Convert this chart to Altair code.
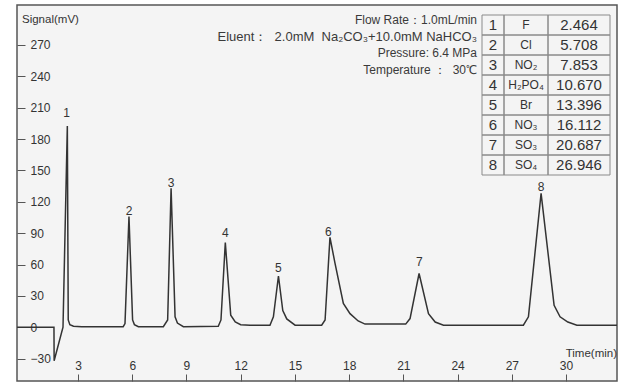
import altair as alt
import pandas as pd

# ---------------- data ----------------
time_min = [-0.37, 1.67, 1.68, 2.17, 2.41, 2.46, 2.55, 2.75, 3.20,
            5.50, 5.60, 5.82, 6.02, 6.12, 6.34,
            7.72, 7.96, 8.15, 8.37, 8.50, 8.83,
            10.76, 10.91, 11.15, 11.45, 11.70, 12.00, 12.52,
            13.62, 13.81, 14.09, 14.33, 14.55, 15.01,
            16.48, 16.67, 16.94, 17.22, 17.68, 18.05, 18.50, 18.88,
            21.13, 21.37, 21.87, 22.39, 22.76, 23.22,
            27.64, 27.92, 28.62, 29.34, 29.67, 30.10, 30.60, 32.82]
signal_mv = [0, 0, -32, 0, 192.5, 7, 2.5, 1, 0.5,
             0.5, 3.5, 106, 7, 2.5, 0.5,
             0.5, 7, 133, 10, 4, 0.5,
             1, 7, 81, 11.5, 5, 2.5, 2,
             2, 10, 49, 16, 8, 2,
             2, 7, 86, 61, 22.7, 13, 6, 3,
             3, 8.3, 51.4, 13, 5, 2,
             2, 10, 128, 21, 10, 5, 2, 2]

peak_no = [1, 2, 3, 4, 5, 6, 7, 8]
label_time = [2.37, 5.82, 8.15, 11.15, 14.09, 16.85, 21.89, 28.62]
label_signal = [205, 111.5, 138.3, 89.9, 56.4, 91.4, 62.2, 134.5]

ions = ["F", "Cl", "NO₂", "H₂PO₄", "Br", "NO₃", "SO₃", "SO₄"]
ret_times = ["2.464", "5.708", "7.853", "10.670", "13.396", "16.112", "20.687", "26.946"]

x_ticks = [3, 6, 9, 12, 15, 18, 21, 24, 27, 30]
y_ticks = [-30, 0, 30, 60, 90, 120, 150, 180, 210, 240, 270]

NB = "\u00a0"
cond_flow = "Flow Rate：1.0mL/min"
cond_eluent = "Eluent：" + NB * 2 + "2.0mM" + NB * 2 + "Na₂CO₃+10.0mM NaHCO₃"
cond_pressure = "Pressure:" + NB + "6.4 MPa"
cond_temp = "Temperature" + NB + "：" + NB * 2 + "30℃" + NB

# ---------------- layout ----------------
W, H = 600, 376
XDOM = [-0.375, 32.82]
YDOM = [-51.4, 308.2]
FONT = "Liberation Sans"
TXT = "#333333"

xs = alt.Scale(domain=XDOM, nice=False, zero=False)
ys = alt.Scale(domain=YDOM, nice=False, zero=False)

chrom = pd.DataFrame({"t": time_min, "v": signal_mv})

line = alt.Chart(chrom).mark_line(color="#333333", strokeWidth=1.5, clip=True).encode(
    x=alt.X("t:Q", scale=xs, axis=alt.Axis(
        orient="top", offset=-H, values=x_ticks, title="", domain=False, grid=False,
        tickSize=7, tickColor="#555555", tickWidth=1, labelPadding=2,
        labelFont=FONT, labelFontSize=12, labelColor=TXT,
        labelFlush=False, labelOverlap=False)),
    y=alt.Y("v:Q", scale=ys, axis=alt.Axis(
        orient="right", offset=-W, values=y_ticks, title="", domain=False, grid=False,
        tickSize=8, tickColor="#555555", tickWidth=1, labelPadding=5,
        labelFont=FONT, labelFontSize=12, labelColor=TXT,
        labelFlush=False, labelOverlap=False)),
)

labels_df = pd.DataFrame({"t": label_time, "v": label_signal, "n": [str(p) for p in peak_no]})
peak_labels = alt.Chart(labels_df).mark_text(
    font=FONT, fontSize=12, color=TXT, baseline="middle", align="center"
).encode(
    x=alt.X("t:Q", scale=xs, axis=None),
    y=alt.Y("v:Q", scale=ys, axis=None),
    text="n:N",
)

# table of retention times
tx = alt.Scale(domain=[0, 1, 2, 3], range=[465, 487, 531, 593])
ty = alt.Scale(domain=[0, 8], range=[10, 170])

cells = pd.DataFrame([{"c0": c, "c1": c + 1, "r0": r, "r1": r + 1}
                      for r in range(len(ions)) for c in range(3)])
table_cells = alt.Chart(cells).mark_rect(
    fillOpacity=0, stroke="#8a8a8a", strokeWidth=1
).encode(
    x=alt.X("c0:Q", scale=tx, axis=None), x2="c1:Q",
    y=alt.Y("r0:Q", scale=ty, axis=None), y2="r1:Q",
)

tab = pd.DataFrame({
    "no": [str(p) for p in peak_no],
    "ion": ions,
    "rt": ret_times,
    "ry": [i + 0.5 for i in range(len(ions))],
    "cx0": [0.5] * len(ions),
    "cx1": [1.5] * len(ions),
    "cx2": [2.5] * len(ions),
})

def tcol(field, colfield, size):
    return alt.Chart(tab).mark_text(
        font=FONT, fontSize=size, color=TXT, baseline="middle", align="center"
    ).encode(
        x=alt.X(f"{colfield}:Q", scale=tx, axis=None),
        y=alt.Y("ry:Q", scale=ty, axis=None),
        text=f"{field}:N",
    )

t_no = tcol("no", "cx0", 15)
t_ion = tcol("ion", "cx1", 12)
t_rt = tcol("rt", "cx2", 15)

def cond_line(txt, ypos, size):
    return alt.Chart(pd.DataFrame({"s": [txt]})).mark_text(
        font=FONT, fontSize=size, color="#3a3a3a", baseline="middle", align="right"
    ).encode(x=alt.value(460), y=alt.value(ypos), text="s:N")

c1 = cond_line(cond_flow, 15, 12)
c2 = cond_line(cond_eluent, 32, 13)
c3 = cond_line(cond_pressure, 48, 12)
c4 = cond_line(cond_temp, 65, 12)

ytitle = alt.Chart(pd.DataFrame({"s": ["Signal(mV)"]})).mark_text(
    font=FONT, fontSize=11.5, color=TXT, baseline="middle", align="left"
).encode(x=alt.value(5), y=alt.value(15), text="s:N")

xtitle = alt.Chart(pd.DataFrame({"s": ["Time(min)"]})).mark_text(
    font=FONT, fontSize=11.5, color=TXT, baseline="middle", align="right"
).encode(x=alt.value(600), y=alt.value(349), text="s:N")

chart = alt.layer(
    line, peak_labels, table_cells, t_no, t_ion, t_rt, c1, c2, c3, c4, ytitle, xtitle
).resolve_scale(
    x="independent", y="independent"
).properties(
    width=W, height=H,
    autosize=alt.AutoSizeParams(type="none"),
    padding={"left": 17, "top": 5, "right": 1, "bottom": 2},
    background="white",
).configure_view(
    fill="#f4f4f4", stroke="#555555", strokeWidth=1.5
)

chart.save("out.html", embed_options={"renderer": "svg", "actions": False})
